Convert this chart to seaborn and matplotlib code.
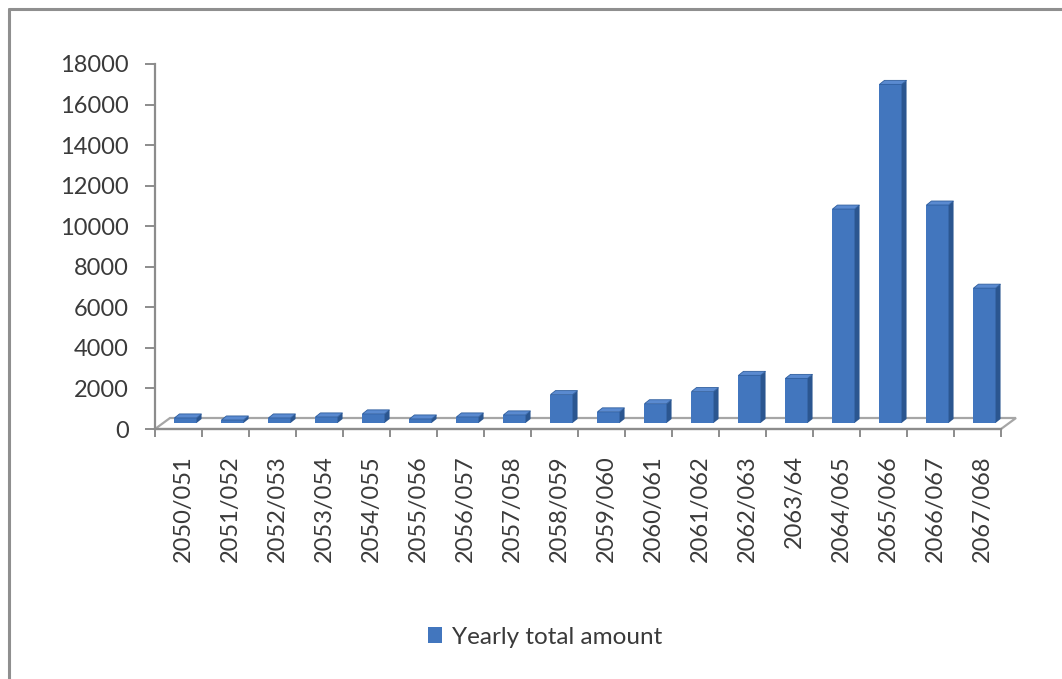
import numpy as np
import pandas as pd
import matplotlib
matplotlib.use("Agg")
import matplotlib.pyplot as plt
import matplotlib.transforms as mtransforms
from matplotlib.patches import Polygon, Patch
from matplotlib.lines import Line2D
import seaborn as sns

# Yearly totals per fiscal year
periods = ["2050/051", "2051/052", "2052/053", "2053/054", "2054/055", "2055/056",
           "2056/057", "2057/058", "2058/059", "2059/060", "2060/061", "2061/062",
           "2062/063", "2063/64", "2064/065", "2065/066", "2066/067", "2067/068"]
amounts = [250, 150, 250, 300, 450, 200, 300, 400, 1400, 550, 950, 1550,
           2350, 2200, 10550, 16700, 10750, 6650]
y_ticks = [0, 2000, 4000, 6000, 8000, 10000, 12000, 14000, 16000, 18000]
series_name = "Yearly total amount"

df = pd.DataFrame({"period": periods, "amount": amounts})

sns.set_theme(style="white")
plt.rcParams["font.family"] = ["Lato", "DejaVu Sans"]

W, H = 1062, 679
fig = plt.figure(figsize=(W / 100, H / 100), dpi=100)
fig.patch.set_facecolor("white")
ax = fig.add_axes([155 / W, 1 - 429 / H, (1001 - 155) / W, (429 - 64) / H])

front = "#4276BE"
side = "#2B5690"
top = "#5A8AD0"
text_col = "#3A3A3A"
axis_col = "#8C8C8C"

sns.barplot(data=df, x="period", y="amount", color=front, width=0.47,
            saturation=1, ax=ax, zorder=3)
ax.set_xlim(-0.5, len(periods) - 0.5)
ax.set_ylim(0, 18000)

# pixel -> data unit conversion for the pseudo-3D depth
inv = ax.transData.inverted()
def px_to_data(dx, dy):
    p0 = inv.transform((0, 0))
    p1 = inv.transform((dx, dy))
    return p1[0] - p0[0], p1[1] - p0[1]

shift = mtransforms.ScaledTranslation(7 / 100, 6 / 100, fig.dpi_scale_trans)
ddx, ddy = px_to_data(5, 4)

for bar in list(ax.patches):
    x, w, h = bar.get_x(), bar.get_width(), bar.get_height()
    bar.set_transform(ax.transData + shift)
    bar.set_edgecolor("none")
    side_face = Polygon([(x + w, 0), (x + w, h), (x + w + ddx, h + ddy), (x + w + ddx, ddy)],
                        closed=True, facecolor=side, edgecolor="none",
                        transform=ax.transData + shift, zorder=3)
    top_face = Polygon([(x, h), (x + w, h), (x + w + ddx, h + ddy), (x + ddx, h + ddy)],
                       closed=True, facecolor=top, edgecolor="#2F5E9E", linewidth=0.6,
                       transform=ax.transData + shift, zorder=3)
    ax.add_patch(side_face)
    ax.add_patch(top_face)

# floor of the 3D plot area
fx, fy = px_to_data(15, 11)
x0, x1 = -0.5, len(periods) - 0.5
floor = Polygon([(x0, 0), (x1, 0), (x1 + fx, fy), (x0 + fx, fy)], closed=True,
                facecolor="white", edgecolor="#A6A6A6", linewidth=1.6, zorder=1,
                clip_on=False)
ax.add_patch(floor)

# axes styling
for s in ["top", "right"]:
    ax.spines[s].set_visible(False)
ax.spines["left"].set_color(axis_col)
ax.spines["left"].set_linewidth(1.6)
ax.spines["bottom"].set_color(axis_col)
ax.spines["bottom"].set_linewidth(1.6)
ax.spines["bottom"].set_zorder(2)

ax.set_yticks(y_ticks)
ax.set_yticklabels([str(v) for v in y_ticks])
ax.tick_params(axis="y", direction="out", length=7, width=1.4, color=axis_col,
               labelsize=17, labelcolor=text_col, pad=12, left=True)

ax.set_xticks(np.arange(len(periods)))
ax.set_xticks(np.arange(len(periods) + 1) - 0.5, minor=True)
ax.tick_params(axis="x", which="major", length=0, pad=19, labelsize=17,
               labelcolor=text_col, labelrotation=90)
ax.tick_params(axis="x", which="minor", direction="out", length=6, width=1.4,
               color=axis_col, bottom=True)
label_shift = mtransforms.ScaledTranslation(5 / 100, 0, fig.dpi_scale_trans)
for lab in ax.get_xticklabels():
    lab.set_transform(lab.get_transform() + label_shift)
    lab.set_verticalalignment("top")

ax.set_xlabel("")
ax.set_ylabel("")
ax.grid(False)

# legend
handle = Patch(facecolor=front, edgecolor="none", label=series_name)
fig.legend(handles=[handle], loc="center", bbox_to_anchor=(545 / W, 1 - 637 / H),
           frameon=False, fontsize=17.5, handlelength=0.6, handleheight=0.6,
           handletextpad=0.4, labelcolor=text_col)

# chart frame (top and left edges)
fig.add_artist(Line2D([9 / W, 1], [1 - 9 / H, 1 - 9 / H], transform=fig.transFigure,
                      color="#8F8F8F", linewidth=2.2))
fig.add_artist(Line2D([9 / W, 9 / W], [0, 1 - 9 / H], transform=fig.transFigure,
                      color="#8F8F8F", linewidth=2.2))

fig.savefig("out.png", dpi=100, facecolor="white")
